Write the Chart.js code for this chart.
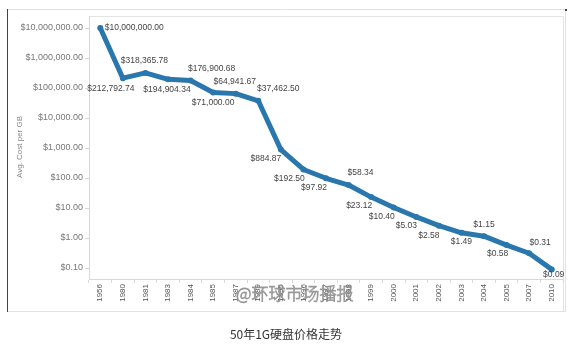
<!DOCTYPE html>
<html>
<head>
<meta charset="utf-8">
<script src="https://cdn.jsdelivr.net/npm/chart.js@4/dist/chart.umd.min.js"></script>
<style>
  html, body { margin: 0; padding: 0; background: #fff; }
  #wrap { width: 574px; height: 347px; position: relative; }
</style>
</head>
<body>
<div id="wrap"><canvas id="c" width="574" height="347"></canvas></div>
<script>
// Average cost of one gigabyte of disk storage, by year
const years = ['1956','1980','1981','1983','1984','1985','1987','1989','1995','1996','1997',
               '1998','1999','2000','2001','2002','2003','2004','2005','2007','2010'];
const costPerGB = [10000000.00, 212792.74, 318365.78, 194904.34, 176900.68, 71000.00, 64941.67,
                   37462.50, 884.87, 192.50, 97.92, 58.34, 23.12, 10.40, 5.03, 2.58, 1.49,
                   1.15, 0.58, 0.31, 0.09];
const yTickValues = [0.1, 1, 10, 100, 1000, 10000, 100000, 1000000, 10000000];

const chartTitle = '50年1G硬盘价格走势';
const yAxisTitle = 'Avg. Cost per GB';
const watermark = '@环球市场播报';

// Where each value label sits relative to its point (dx, dy in px)
const labelOffsets = [
  [34, 0], [-12, 10], [-1, -12], [-1, 10], [21, -12], [0, 10], [-1, -12], [20, -12],
  [-15, 9], [-14, 9], [-12, 9], [12, -12], [-12, 9], [-12, 9], [-10, 9], [-10, 10],
  [0, 9], [0, -12], [-9, 9], [11, -11], [2, 5]
];

const money = v => '$' + v.toLocaleString('en-US', { minimumFractionDigits: 2, maximumFractionDigits: 2 });
const LINE_BLUE = '#2a77ae';

const decorations = {
  id: 'decorations',
  beforeDraw(chart) {
    const ctx = chart.ctx;
    const a = chart.chartArea;
    ctx.save();
    // outer frame
    ctx.strokeStyle = '#e2e2e2';
    ctx.lineWidth = 1;
    ctx.beginPath();
    ctx.moveTo(7, 9.5); ctx.lineTo(566, 9.5);
    ctx.moveTo(565.5, 9.5); ctx.lineTo(565.5, 311.5);
    ctx.moveTo(7, 311.5); ctx.lineTo(566, 311.5);
    ctx.stroke();
    ctx.strokeStyle = '#444';
    ctx.beginPath();
    ctx.moveTo(7.5, 9); ctx.lineTo(7.5, 312);
    ctx.stroke();
    ctx.fillStyle = '#444';
    ctx.fillRect(565, 9, 2, 2);
    // plot panel border (top and right)
    ctx.strokeStyle = '#e4e4e4';
    ctx.beginPath();
    ctx.moveTo(a.left, a.top + 0.5); ctx.lineTo(a.right + 0.5, a.top + 0.5);
    ctx.lineTo(a.right + 0.5, 311);
    ctx.stroke();
    ctx.restore();
  },
  afterDatasetsDraw(chart) {
    const ctx = chart.ctx;
    const pts = chart.getDatasetMeta(0).data;
    ctx.save();
    ctx.font = '8.5px "Liberation Sans", Arial, sans-serif';
    ctx.fillStyle = '#444';
    ctx.textAlign = 'center';
    ctx.textBaseline = 'middle';
    pts.forEach((p, i) => {
      const [dx, dy] = labelOffsets[i];
      ctx.fillText(money(costPerGB[i]), p.x + dx, p.y + dy);
    });
    ctx.restore();
  },
  afterDraw(chart) {
    const ctx = chart.ctx;
    ctx.save();
    // y axis title
    ctx.translate(20, 147);
    ctx.rotate(-Math.PI / 2);
    ctx.font = '8px "Liberation Sans", Arial, sans-serif';
    ctx.fillStyle = '#888';
    ctx.textAlign = 'center';
    ctx.textBaseline = 'middle';
    ctx.fillText(yAxisTitle, 0, 0);
    ctx.restore();

    // chart caption
    ctx.save();
    ctx.font = '12px "Noto Sans CJK SC", sans-serif';
    ctx.fillStyle = '#333';
    ctx.textAlign = 'center';
    ctx.textBaseline = 'middle';
    ctx.fillText(chartTitle, 286, 334);

    // hollow watermark
    ctx.font = '300 17px "Noto Sans CJK SC", sans-serif';
    ctx.textAlign = 'left';
    ctx.lineWidth = 0.8;
    ctx.strokeStyle = 'rgba(110,110,110,0.7)';
    ctx.fillStyle = 'rgba(255,255,255,0.92)';
    ctx.fillText(watermark, 236, 294);
    ctx.strokeText(watermark, 236, 294);
    ctx.restore();
  }
};

new Chart(document.getElementById('c'), {
  type: 'line',
  data: {
    labels: years,
    datasets: [{
      data: costPerGB,
      borderColor: LINE_BLUE,
      backgroundColor: LINE_BLUE,
      borderWidth: 5,
      borderJoinStyle: 'round',
      borderCapStyle: 'round',
      pointRadius: 3,
      pointBorderWidth: 0,
      pointBackgroundColor: LINE_BLUE,
      tension: 0
    }]
  },
  options: {
    responsive: false,
    animation: false,
    devicePixelRatio: 1,
    layout: { padding: { top: 16, right: 11, left: 0, bottom: 0 } },
    plugins: { legend: { display: false }, tooltip: { enabled: false } },
    scales: {
      x: {
        type: 'category',
        offset: true,
        grid: { display: true, drawOnChartArea: false, offset: true, tickLength: 4, color: '#d8d8d8' },
        border: { display: true, color: '#d8d8d8' },
        ticks: {
          autoSkip: false, minRotation: 90, maxRotation: 90, padding: 1,
          color: '#555', font: { family: '"Liberation Sans", Arial, sans-serif', size: 8 }
        },
        afterFit(s) { s.height = 68; }
      },
      y: {
        type: 'logarithmic',
        min: 0.043,
        max: 25120000,
        afterBuildTicks(s) { s.ticks = yTickValues.map(v => ({ value: v, major: false })); },
        grid: { display: true, drawOnChartArea: false, tickLength: 4, color: '#d8d8d8' },
        border: { display: true, color: '#d8d8d8' },
        ticks: {
          padding: 2,
          color: '#777',
          font: { family: '"Liberation Sans", Arial, sans-serif', size: 9 },
          callback: v => money(v)
        },
        afterFit(s) { s.width = 89; }
      }
    }
  },
  plugins: [decorations]
});
</script>
</body>
</html>
